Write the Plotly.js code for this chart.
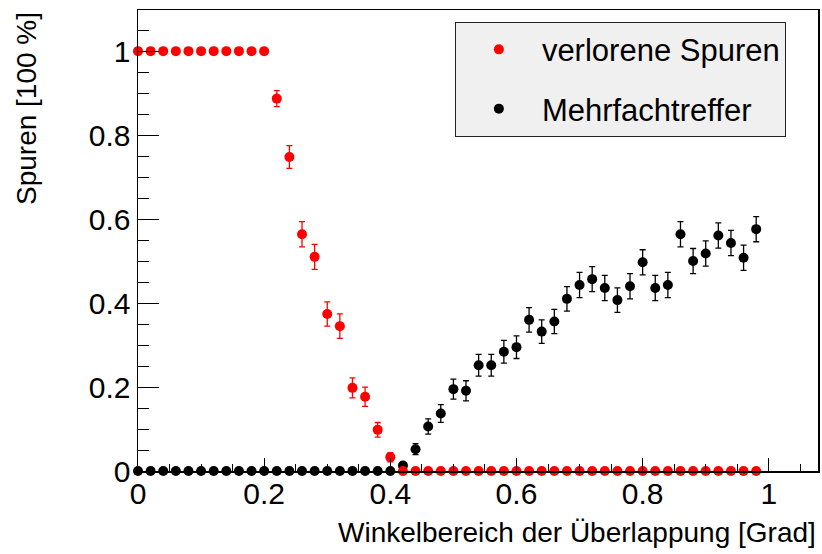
<!DOCTYPE html>
<html>
<head>
<meta charset="utf-8">
<script src="https://cdn.plot.ly/plotly-3.0.1.min.js"></script>
<style>html,body{margin:0;padding:0;background:#fff;}#chart{width:822px;height:554px;}</style>
</head>
<body>
<div id="chart"></div>
<script>
// Winkelbereich der Überlappung [Grad]
var xVals = [0.00,0.02,0.04,0.06,0.08,0.10,0.12,0.14,0.16,0.18,
             0.20,0.22,0.24,0.26,0.28,0.30,0.32,0.34,0.36,0.38,
             0.40,0.42,0.44,0.46,0.48,0.50,0.52,0.54,0.56,0.58,
             0.60,0.62,0.64,0.66,0.68,0.70,0.72,0.74,0.76,0.78,
             0.80,0.82,0.84,0.86,0.88,0.90,0.92,0.94,0.96,0.98];

// verlorene Spuren
var lostY = [1,1,1,1,1,1,1,1,1,1,
             1,0.887,0.748,0.564,0.510,0.374,0.345,0.198,0.177,0.098,
             0.033,0,0,0,0,0,0,0,0,0,
             0,0,0,0,0,0,0,0,0,0,
             0,0,0,0,0,0,0,0,0,0];
var lostErr = [0,0,0,0,0,0,0,0,0,0,
               0,0.019,0.027,0.030,0.030,0.029,0.029,0.024,0.023,0.0175,
               0.011,0,0,0,0,0,0,0,0,0,
               0,0,0,0,0,0,0,0,0,0,
               0,0,0,0,0,0,0,0,0,0];

// Mehrfachtreffer
var multiY = [0,0,0,0,0,0,0,0,0,0,
              0,0,0,0,0,0,0,0,0,0,
              0,0.013,0.052,0.106,0.137,0.195,0.191,0.252,0.252,0.284,
              0.295,0.360,0.332,0.356,0.410,0.443,0.457,0.436,0.407,0.440,
              0.497,0.436,0.443,0.564,0.500,0.518,0.561,0.543,0.508,0.576];
var multiErr = [0,0,0,0,0,0,0,0,0,0,
                0,0,0,0,0,0,0,0,0,0,
                0,0.007,0.013,0.018,0.021,0.024,0.024,0.026,0.026,0.027,
                0.027,0.029,0.028,0.029,0.029,0.030,0.030,0.030,0.029,0.030,
                0.030,0.030,0.030,0.030,0.030,0.030,0.030,0.030,0.030,0.030];

var seriesNames = ['verlorene Spuren', 'Mehrfachtreffer'];
var xTitle = 'Winkelbereich der Überlappung [Grad]';
var yTitle = 'Spuren [100 %]';

var FONT = 'Liberation Sans, Arial, Helvetica, sans-serif';

var traces = [
  {
    x: xVals, y: multiY, type: 'scatter', mode: 'markers', name: seriesNames[1],
    legendgroup: 'b', legendrank: 2, cliponaxis: false,
    marker: {color: '#000000', size: 10},
    error_y: {type: 'data', array: multiErr, visible: true, color: '#000000', thickness: 1.3, width: 3}
  },
  {
    x: xVals, y: lostY, type: 'scatter', mode: 'markers', name: seriesNames[0],
    legendgroup: 'a', legendrank: 1, cliponaxis: false,
    marker: {color: '#ff0000', size: 10},
    error_y: {type: 'data', array: lostErr, visible: true, color: '#ff0000', thickness: 1.3, width: 3}
  }
];

var axisCommon = {
  showgrid: false, zeroline: false, showline: true, linecolor: '#000', linewidth: 1.5,
  mirror: true, ticks: 'inside', tickcolor: '#000', tickwidth: 1,
  tick0: 0, dtick: 0.2,
  tickfont: {family: FONT, size: 30, color: '#000'}
};

var layout = {
  width: 822, height: 554,
  margin: {l: 138, r: 4, t: 10, b: 83},
  paper_bgcolor: '#ffffff', plot_bgcolor: '#ffffff',
  font: {family: FONT, color: '#000'},
  showlegend: true,
  legend: {
    x: 0.466, y: 0.9746, xanchor: 'left', yanchor: 'top',
    bgcolor: '#f0f0f0', bordercolor: '#222', borderwidth: 1,
    font: {family: FONT, size: 31, color: '#000'},
    traceorder: 'grouped', tracegroupgap: 16, itemwidth: 76
  },
  xaxis: Object.assign({}, axisCommon, {
    range: [0, 1.078], ticklen: 13, ticklabelstandoff: -5,
    minor: {ticks: 'inside', ticklen: 7, dtick: 0.05, tick0: 0, tickcolor: '#000', tickwidth: 1, showgrid: false}
  }),
  yaxis: Object.assign({}, axisCommon, {
    range: [0, 1.098], ticklen: 21,
    minor: {ticks: 'inside', ticklen: 11, dtick: 0.05, tick0: 0, tickcolor: '#000', tickwidth: 1, showgrid: false}
  }),
  annotations: [
    {text: xTitle, xref: 'paper', yref: 'paper', x: 1, y: -0.134, xanchor: 'right', yanchor: 'middle',
     showarrow: false, font: {family: FONT, size: 28, color: '#000'}},
    {text: yTitle, xref: 'paper', yref: 'paper', x: -0.164, y: 1, xanchor: 'center', yanchor: 'top',
     textangle: -90, showarrow: false, font: {family: FONT, size: 28, color: '#000'}}
  ]
};

Plotly.newPlot('chart', traces, layout, {displayModeBar: false, staticPlot: true});
</script>
</body>
</html>
